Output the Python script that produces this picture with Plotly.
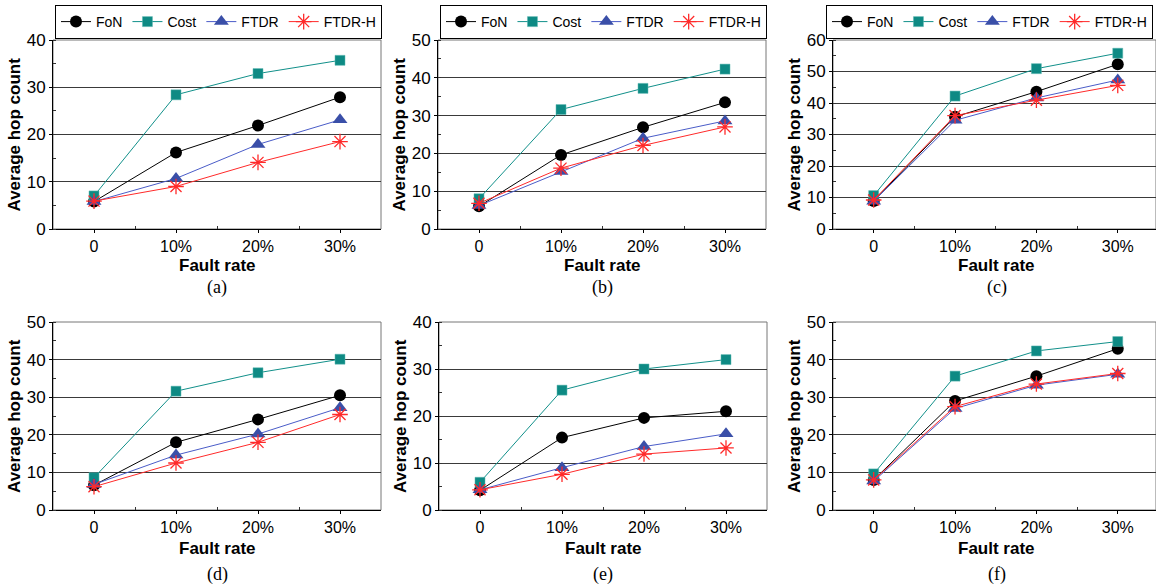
import plotly.graph_objects as go

W, H = 1156, 588

categories = ["0", "10%", "20%", "30%"]
series_names = ["FoN", "Cost", "FTDR", "FTDR-H"]

# panel values (a)-(f)
a_fon = [5.8, 16.2, 21.9, 27.9]
a_cost = [7.0, 28.4, 32.9, 35.7]
a_ftdr = [5.8, 10.7, 17.9, 23.1]
a_ftdrh = [5.9, 9.0, 14.1, 18.5]

b_fon = [6.0, 19.6, 26.9, 33.5]
b_cost = [8.0, 31.6, 37.2, 42.3]
b_ftdr = [6.2, 15.2, 24.0, 28.6]
b_ftdrh = [6.8, 16.1, 22.1, 27.0]

c_fon = [8.9, 35.6, 43.6, 52.3]
c_cost = [10.6, 42.2, 50.9, 55.8]
c_ftdr = [8.8, 34.5, 41.6, 47.3]
c_ftdrh = [9.2, 36.0, 40.9, 45.6]

d_fon = [6.6, 18.0, 24.1, 30.5]
d_cost = [8.6, 31.6, 36.5, 40.1]
d_ftdr = [6.8, 14.6, 20.2, 27.2]
d_ftdrh = [6.2, 12.5, 18.0, 25.4]

e_fon = [4.2, 15.4, 19.6, 21.0]
e_cost = [5.9, 25.5, 30.0, 32.0]
e_ftdr = [4.3, 9.0, 13.5, 16.2]
e_ftdrh = [4.3, 7.6, 11.9, 13.2]

f_fon = [8.0, 29.0, 35.6, 42.9]
f_cost = [9.6, 35.6, 42.3, 44.8]
f_ftdr = [7.7, 27.0, 33.2, 36.1]
f_ftdrh = [8.0, 27.5, 33.5, 36.3]

y_max = [40, 50, 60, 50, 40, 50]
captions = ["(a)", "(b)", "(c)", "(d)", "(e)", "(f)"]

panels = [
    [a_fon, a_cost, a_ftdr, a_ftdrh],
    [b_fon, b_cost, b_ftdr, b_ftdrh],
    [c_fon, c_cost, c_ftdr, c_ftdrh],
    [d_fon, d_cost, d_ftdr, d_ftdrh],
    [e_fon, e_cost, e_ftdr, e_ftdrh],
    [f_fon, f_cost, f_ftdr, f_ftdrh],
]

# layout geometry in pixels: (left, right, top, bottom)
boxes = [
    (53, 381, 40, 229),
    (438, 766, 40, 229),
    (833, 1156, 40, 229),
    (53, 381, 322, 510),
    (439, 767, 322, 510),
    (833, 1156, 322, 510),
]
xranges = [[-0.5, 3.5], [-0.5, 3.5], [-0.5, 3.47],
           [-0.5, 3.5], [-0.5, 3.5], [-0.5, 3.47]]

styles = [
    dict(line=dict(color="black", width=1),
         marker=dict(symbol="circle", size=12, color="black")),
    dict(line=dict(color="#11908a", width=1),
         marker=dict(symbol="square", size=10, color="#0e8a84",
                     line=dict(color="#5fb8b2", width=0.5))),
    dict(line=dict(color="#4a5cc8", width=1),
         marker=dict(symbol="triangle-up", size=13, color="#3a4fa8")),
    dict(line=dict(color="#ff2a2a", width=1),
         marker=dict(symbol="asterisk-open", size=13,
                     line=dict(color="#ff2a2a", width=1.3))),
]

FONT = "Liberation Sans, Arial, sans-serif"

fig = go.Figure()
legend_ids = ["legend", "legend2", "legend3"]
x_idx = [0, 1, 2, 3]

for p, (vals, box) in enumerate(zip(panels, boxes)):
    n = p + 1
    xa = "x" if n == 1 else f"x{n}"
    ya = "y" if n == 1 else f"y{n}"
    for s, name in enumerate(series_names):
        kw = dict(x=x_idx, y=vals[s], name=name, mode="lines+markers",
                  xaxis=xa, yaxis=ya, **styles[s])
        if p < 3:
            kw["legend"] = legend_ids[p]
            kw["showlegend"] = True
        else:
            kw["showlegend"] = False
        fig.add_trace(go.Scatter(**kw))

layout = dict(width=W, height=H, margin=dict(l=0, r=0, t=0, b=0, autoexpand=False),
              paper_bgcolor="white", plot_bgcolor="white",
              font=dict(family=FONT, color="black"))

annotations = []
shapes = []
for p, box in enumerate(boxes):
    n = p + 1
    l, r, t, b = box
    xkey = "xaxis" if n == 1 else f"xaxis{n}"
    ykey = "yaxis" if n == 1 else f"yaxis{n}"
    yanchor_name = "y" if n == 1 else f"y{n}"
    xanchor_name = "x" if n == 1 else f"x{n}"
    layout[xkey] = dict(domain=[l / W, r / W], range=xranges[p],
                        anchor=yanchor_name, tickvals=x_idx,
                        ticktext=categories, showgrid=False, zeroline=False,
                        showline=True, linecolor="black", linewidth=1,
                        ticks="outside", ticklen=3, tickcolor="black",
                        minor=dict(tickvals=[0.5, 1.5, 2.5], ticks="inside",
                                   ticklen=3, tickcolor="#333"),
                        tickfont=dict(size=16, family=FONT))
    layout[ykey] = dict(domain=[1 - b / H, 1 - t / H], range=[0, y_max[p]],
                        anchor=xanchor_name, dtick=10, showgrid=True,
                        gridcolor="#3a3a3a", gridwidth=1.2, zeroline=False,
                        showline=True, linecolor="black", linewidth=1,
                        ticks="outside", ticklen=3, tickcolor="black",
                        minor=dict(dtick=5, ticks="inside", ticklen=3,
                                   tickcolor="#333"),
                        tickfont=dict(size=17, family=FONT))
    # right/top border in gray
    shapes.append(dict(type="rect", xref=f"{xanchor_name} domain",
                       yref=f"{yanchor_name} domain", x0=0, x1=1, y0=0, y1=1,
                       line=dict(color="#777", width=1), layer="below"))
    cx = (l + min(r, 1156)) / 2 if p % 3 != 2 else (l + 1161) / 2
    cy_plot = (t + b) / 2
    row_top = p < 3
    xt_y = 265 if row_top else 548
    cap_y = 287 if row_top else 574
    annotations.append(dict(text="<b>Fault rate</b>", x=cx / W, y=1 - xt_y / H,
                            xref="paper", yref="paper", showarrow=False,
                            xanchor="center", yanchor="middle",
                            font=dict(size=17, family=FONT)))
    annotations.append(dict(text=captions[p], x=cx / W, y=1 - cap_y / H,
                            xref="paper", yref="paper", showarrow=False,
                            xanchor="center", yanchor="middle",
                            font=dict(size=18, family="Liberation Serif, Times New Roman, serif")))
    annotations.append(dict(text="<b>Average hop count</b>", x=(l - 39) / W,
                            y=1 - cy_plot / H, xref="paper", yref="paper",
                            showarrow=False, textangle=-90,
                            xanchor="center", yanchor="middle",
                            font=dict(size=17, family=FONT)))

legend_pos = [(55, 5, "left"), (440, 5, "left"), (1153, 5, "right")]
for i, (lx, ly, anc) in enumerate(legend_pos):
    layout[legend_ids[i]] = dict(x=lx / W, y=1 - ly / H, xanchor=anc,
                                 yanchor="top", orientation="h",
                                 bordercolor="black", borderwidth=1,
                                 bgcolor="white", itemwidth=30,
                                 font=dict(size=14, family=FONT),
                                 tracegroupgap=0, itemclick=False)

layout["annotations"] = annotations
layout["shapes"] = shapes
fig.update_layout(**layout)
fig.write_html("out.html")
